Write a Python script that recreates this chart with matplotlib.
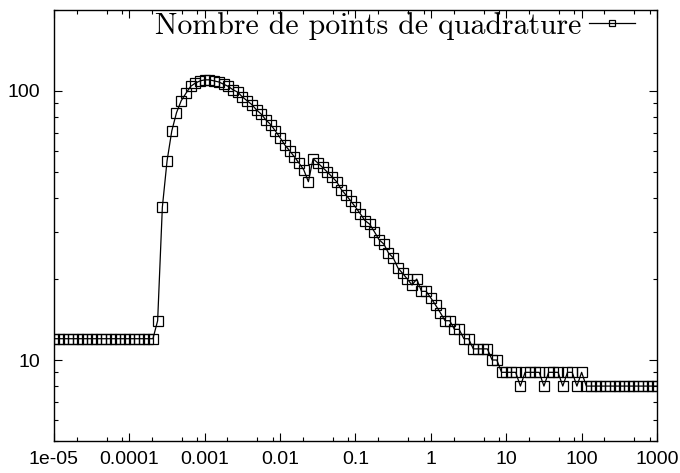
import numpy as np
import matplotlib
matplotlib.use("Agg")
import matplotlib.pyplot as plt
from matplotlib.ticker import LogLocator, NullFormatter, FixedLocator, FixedFormatter


# sample grid: 16 points per decade, 1e-05 .. 1000 (129 points)
x_vals = np.logspace(-5, 3, 129)

# nombre de points de quadrature
n_quad = [
    12, 12, 12, 12, 12, 12, 12, 12, 12, 12, 12,
    12, 12, 12, 12, 12, 12, 12, 12, 12, 12, 12,
    14, 37, 55, 71, 83, 92, 98, 104, 107, 109,
    110, 110, 109, 108, 106, 104, 101, 99, 95, 92,
    89, 85, 82, 78, 75, 71, 67, 63, 60, 57,
    54, 51, 46, 56, 54, 52, 50, 48, 46, 43,
    41, 39, 37, 35, 33, 32, 30, 28, 27, 25,
    24, 22, 21, 20, 19, 20, 18, 18, 17, 16,
    15, 14, 14, 13, 13, 12, 12, 11, 11, 11,
    11, 10, 10, 9, 9, 9, 9, 8, 9, 9,
    9, 9, 8, 9, 9, 9, 8, 9, 9, 8,
    9, 8, 8, 8, 8, 8, 8, 8, 8, 8,
    8, 8, 8, 8, 8, 8, 8,
]

x_ticks = [1e-5, 1e-4, 1e-3, 1e-2, 1e-1, 1, 10, 100, 1000]
x_tick_labels = ["1e-05", "0.0001", "0.001", "0.01", "0.1", "1", "10", "100", "1000"]
y_ticks = [10, 100]
y_tick_labels = ["10", "100"]
series_label = "Nombre de points de quadrature"

W, H = 680, 473


def main():
    plt.rcParams["font.family"] = ["Liberation Sans", "DejaVu Sans"]

    fig = plt.figure(figsize=(W / 100, H / 100), dpi=100)
    ax = fig.add_axes([54 / W, 32 / H, 603 / W, 431 / H])

    ax.plot(x_vals, n_quad, color="black", lw=0.9, marker="s", markersize=6.5,
            markerfacecolor="none", markeredgecolor="black", markeredgewidth=0.9,
            label=series_label)

    ax.set_xscale("log"); ax.set_yscale("log")
    ax.set_xlim(1e-5, 1000); ax.set_ylim(5, 200)

    ax.xaxis.set_major_locator(FixedLocator(x_ticks))
    ax.xaxis.set_major_formatter(FixedFormatter(x_tick_labels))
    ax.xaxis.set_minor_locator(LogLocator(base=10, subs=(2, 5, 8), numticks=20))
    ax.xaxis.set_minor_formatter(NullFormatter())
    ax.yaxis.set_major_locator(FixedLocator(y_ticks))
    ax.yaxis.set_major_formatter(FixedFormatter(y_tick_labels))
    ax.yaxis.set_minor_locator(LogLocator(base=10, subs=np.arange(2, 10), numticks=20))
    ax.yaxis.set_minor_formatter(NullFormatter())

    ax.tick_params(which="both", direction="in", top=True, right=True, width=0.8,
                   labelsize=14)
    ax.tick_params(which="major", length=5.5)
    ax.tick_params(which="minor", length=3)
    ax.tick_params(axis="x", pad=7)
    ax.tick_params(axis="y", pad=10)
    for s in ax.spines.values():
        s.set_linewidth(1.0)

    ax.legend(loc="upper right", bbox_to_anchor=(635 / W, 1 - 12 / H),
              bbox_transform=fig.transFigure, frameon=False, markerfirst=False,
              numpoints=1, handlelength=1.55, handletextpad=0.25, borderpad=0,
              borderaxespad=0, markerscale=0.75,
              prop={"family": "cmr10", "size": 21.5})

    fig.savefig("out.png", dpi=100)
    plt.close(fig)


if __name__ == "__main__":
    main()
